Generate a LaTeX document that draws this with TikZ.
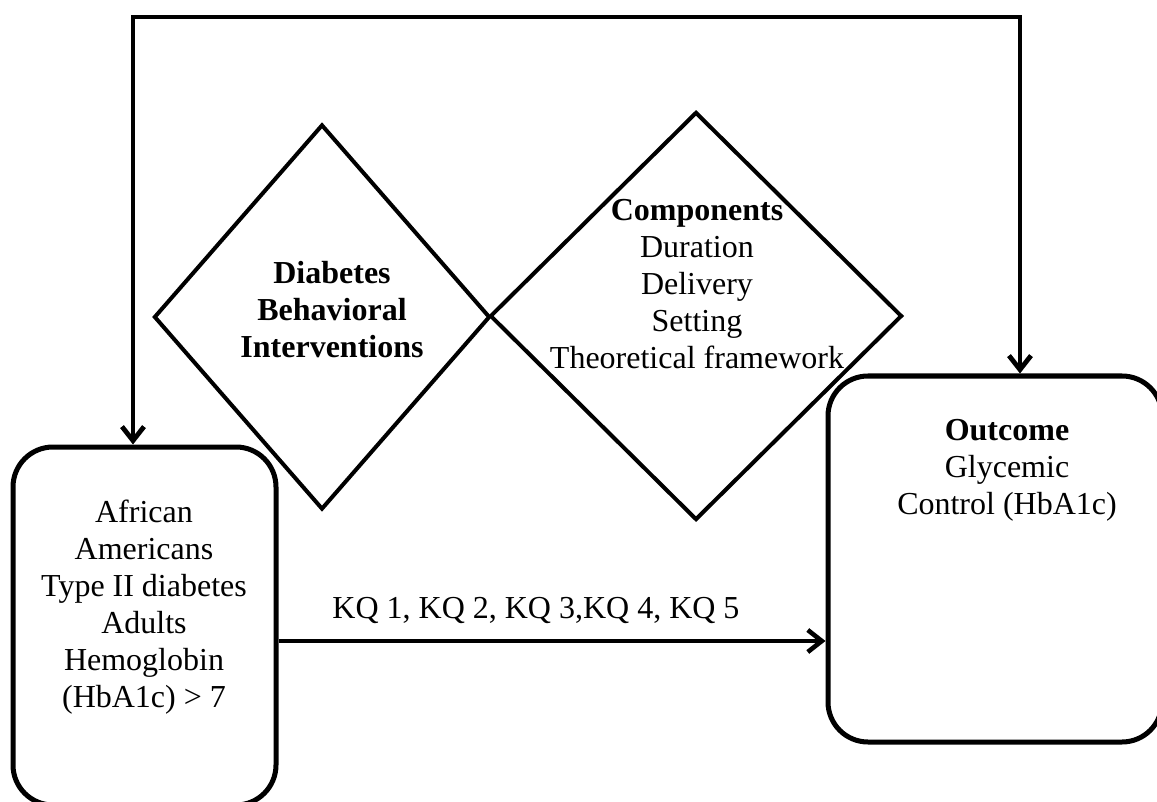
\documentclass[tikz,border=0pt]{standalone}
\usepackage{fontspec}
\setmainfont{Liberation Serif}
\usetikzlibrary{shapes.geometric,arrows.meta,positioning}

\tikzset{
	box/.style={draw, line width=2.5pt, rounded corners=20pt, inner sep=0pt},
	diam/.style={draw, diamond, line width=2pt, inner sep=0pt},
	txt/.style={align=center, font=\fontsize{16}{18.5}\selectfont},
	conn/.style={line width=2.3pt, -{Straight Barb[length=7pt,width=11pt]}},
	biconn/.style={line width=2.4pt, {Straight Barb[length=7pt,width=11pt]}-{Straight Barb[length=7pt,width=11pt]}}
}

\begin{document}
\begin{tikzpicture}[x=0.5pt, y=-0.5pt]
	
	\useasboundingbox (0,0) rectangle (1157,802);
	
	% boxes
	\node[box, minimum width=131.5pt, minimum height=179pt] (pop) at (144.5,626) {};
	\node[box, minimum width=167pt, minimum height=183pt] (outcome) at (995,559) {};
	
	% diamonds
	\node[diam, minimum width=168pt, minimum height=192.5pt] (interv) at (322,317) {};
	\node[diam, minimum width=206pt, minimum height=204pt] (comp) at (696,316) {};
	
	% texts
	\node[txt] (poptext) at (144,607) {African\\Americans\\Type II diabetes\\Adults\\Hemoglobin\\(HbA1c) > 7};
	\node[txt, font=\fontsize{16}{18.5}\selectfont\bfseries] (intervtext) at (332,310) {Diabetes\\Behavioral\\Interventions};
	\node[txt] (comptext) at (697,284) {\textbf{Components}\\Duration\\Delivery\\Setting\\Theoretical framework};
	\node[txt] (outtext) at (1007,470) {\textbf{Outcome}\\Glycemic\\Control (HbA1c)};
	
	% connectors
	\coordinate (ltop) at (133,17);
	\coordinate (rtop) at (1020,17);
	\coordinate (kq) at (0,641);
	
	\draw[biconn] (ltop |- pop.north) -- (ltop) -- (rtop) -- (rtop |- outcome.north);
	\draw[conn] (kq -| pop.east) -- (kq -| outcome.west)
		node[midway, above=4pt, xshift=-8pt, txt] (kqtext) {KQ 1, KQ 2, KQ 3,KQ 4, KQ 5};
	
\end{tikzpicture}
\end{document}
